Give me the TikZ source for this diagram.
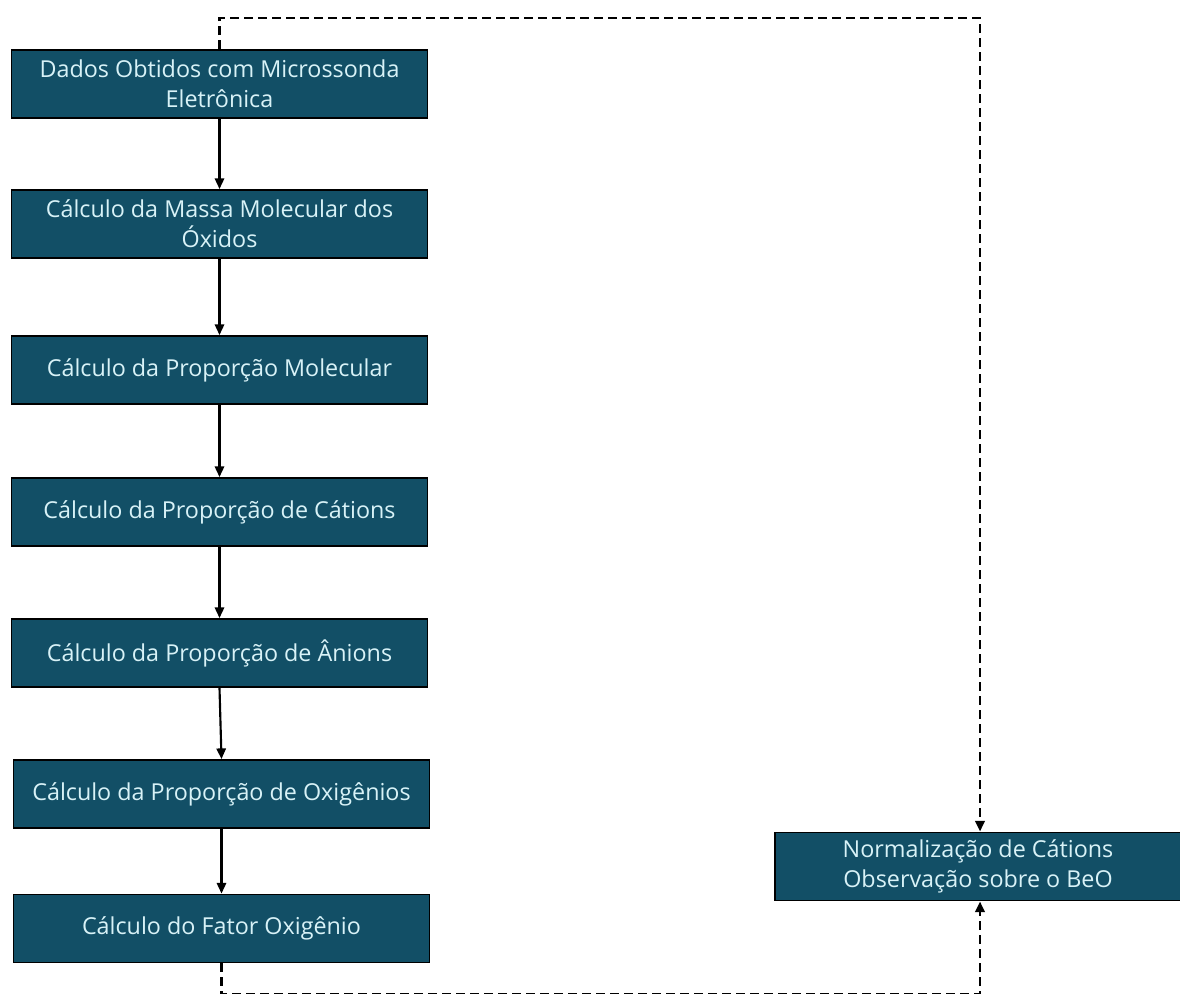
\documentclass[tikz,border=0pt]{standalone}
\usepackage{fontspec}
\setmainfont{Open Sans}
\usepackage{xcolor}
\definecolor{boxfill}{HTML}{124F66}
\definecolor{boxtext}{HTML}{D8F2F7}
\usepackage{tikz}
\usetikzlibrary{positioning, arrows.meta}
\tikzset{
    stepbox/.style = {rectangle, draw=black, line width=1.4pt, fill=boxfill,
                      text=boxtext, minimum width=312pt, minimum height=51pt,
                      align=center, inner sep=0pt,
                      font=\fontsize{17.5}{22.5}\selectfont},
    arrow/.style = {-{Triangle[length=8pt, width=7pt]}, line width=1.6pt, color=black},
    dasharrow/.style = {-{Triangle[length=8pt, width=7pt]}, line width=2pt,
                        color=black, dash pattern=on 6.5pt off 4pt},
}

\begin{document}
\begin{tikzpicture}[x=0.75pt, y=-0.75pt]
        \useasboundingbox (0,0) rectangle (1180,994);
        \node[stepbox] (dados)  at (219.5,84)  {Dados Obtidos com Microssonda\\Eletrônica};
        \node[stepbox] (massa)  at (219.5,224) {Cálculo da Massa Molecular dos\\Óxidos};
        \node[stepbox] (molec)  at (219.5,370) {Cálculo da Proporção Molecular};
        \node[stepbox] (cation) at (219.5,512) {Cálculo da Proporção de Cátions};
        \node[stepbox] (anion)  at (219.5,653) {Cálculo da Proporção de Ânions};
        \node[stepbox] (oxig)   at (221.5,794) {Cálculo da Proporção de Oxigênios};
        \node[stepbox] (fator)  at (221.5,928.5) {Cálculo do Fator Oxigênio};
        \node[stepbox, minimum width=304pt] (norm) at (978,866.5) {Normalização de Cátions\\Observação sobre o BeO};
        \draw[arrow] (dados) -- (massa);
        \draw[arrow] (massa) -- (molec);
        \draw[arrow] (molec) -- (cation);
        \draw[arrow] (cation) -- (anion);
        \draw[arrow] (anion.south) -- (oxig.north);
        \draw[arrow] (oxig) -- (fator);
        % retorno tracejado
        \coordinate (loopT) at (980,18);
        \coordinate (loopB) at (221.5,994.5);
        \draw[dasharrow] (dados.north) |- (loopT) -- (loopT |- norm.north);
        \draw[dasharrow] (fator.south) -- (loopB) -| (loopT |- norm.south);
      \end{tikzpicture}
\end{document}
